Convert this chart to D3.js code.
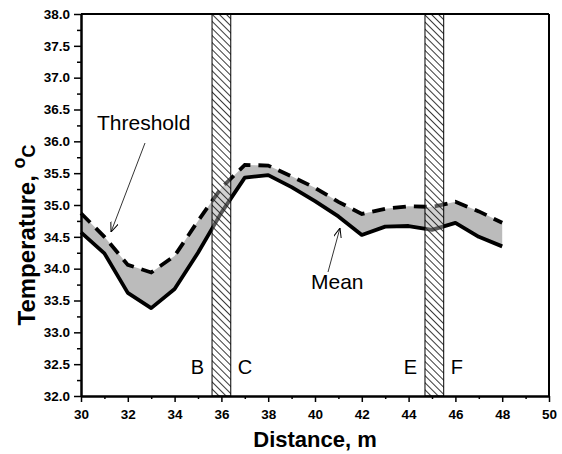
<!doctype html>
<html>
<head>
<meta charset="utf-8">
<title>Temperature vs distance</title>
<script src="https://cdnjs.cloudflare.com/ajax/libs/d3/7.8.5/d3.min.js"></script>
<style>
    body { margin: 0; background: #fff; }
    svg text { font-family: "Liberation Sans", Arial, sans-serif; fill: #000; }
    .axis text { font-weight: bold; font-size: 13.5px; }
    .axis .domain { stroke: #000; stroke-width: 2; }
    .axis line { stroke: #000; stroke-width: 1.5; }
</style>
</head>
<body>
<div id="chart"></div>
<script>
// values
var distance = [30, 31, 32, 33, 34, 35, 36, 37, 38, 39, 40, 41, 42, 43, 44, 45, 46, 47, 48];
var mean = [34.57, 34.24, 33.62, 33.38, 33.68, 34.25, 34.88, 35.43, 35.47, 35.28, 35.06, 34.82, 34.53, 34.66, 34.67, 34.61, 34.72, 34.50, 34.35];
var threshold = [34.87, 34.50, 34.06, 33.94, 34.20, 34.75, 35.27, 35.63, 35.62, 35.45, 35.27, 35.05, 34.86, 34.94, 34.98, 34.97, 35.05, 34.90, 34.72];
var zones = [[35.6, 36.4], [44.7, 45.5]];
var zoneLabels = [["B", "C"], ["E", "F"]];
var xTicks = [30, 32, 34, 36, 38, 40, 42, 44, 46, 48, 50];
var yTicks = [32, 32.5, 33, 33.5, 34, 34.5, 35, 35.5, 36, 36.5, 37, 37.5, 38];

var W = 562, H = 454;
var margin = {top: 14, right: 13, bottom: 58, left: 81};
var width = W - margin.left - margin.right,
    height = H - margin.top - margin.bottom;

var svg = d3.select("#chart").append("svg")
    .attr("width", W)
    .attr("height", H);

var defs = svg.append("defs");
defs.append("pattern")
    .attr("id", "hatch")
    .attr("patternUnits", "userSpaceOnUse")
    .attr("width", 10)
    .attr("height", 5)
    .attr("patternTransform", "rotate(45)")
    .append("line")
    .attr("x1", 0).attr("y1", 2.5)
    .attr("x2", 10).attr("y2", 2.5)
    .attr("stroke", "#222")
    .attr("stroke-width", 0.9);

defs.append("marker")
    .attr("id", "arrow")
    .attr("markerUnits", "userSpaceOnUse")
    .attr("viewBox", "0 0 10 8")
    .attr("refX", 10).attr("refY", 4)
    .attr("markerWidth", 10).attr("markerHeight", 8)
    .attr("orient", "auto")
    .append("path")
    .attr("d", "M0,0 L10,4 L0,8")
    .attr("fill", "none")
    .attr("stroke", "#000")
    .attr("stroke-width", 1);

var g = svg.append("g")
    .attr("transform", "translate(" + margin.left + "," + margin.top + ")");

var x = d3.scaleLinear().domain([30, 50]).range([0, width]);
var y = d3.scaleLinear().domain([32, 38]).range([height, 0]);

var rows = distance.map(function(d, i) {
    return {d: d, m: mean[i], t: threshold[i]};
});

// band between the two curves
var band = d3.area()
    .x(function(r) { return x(r.d); })
    .y0(function(r) { return y(r.m); })
    .y1(function(r) { return y(r.t); });

g.append("path")
    .datum(rows)
    .attr("d", band)
    .attr("fill", "#bbbbbb");

var lineMean = d3.line()
    .x(function(r) { return x(r.d); })
    .y(function(r) { return y(r.m); });
var lineThr = d3.line()
    .x(function(r) { return x(r.d); })
    .y(function(r) { return y(r.t); });

g.append("path")
    .datum(rows)
    .attr("d", lineMean)
    .attr("fill", "none")
    .attr("stroke", "#000")
    .attr("stroke-width", 3.8)
    .attr("stroke-linejoin", "round");

g.append("path")
    .datum(rows)
    .attr("d", lineThr)
    .attr("fill", "none")
    .attr("stroke", "#000")
    .attr("stroke-width", 3.8)
    .attr("stroke-dasharray", "13,8");

// hatched zones
var zone = g.selectAll(".zone")
    .data(zones)
    .enter().append("g")
    .attr("class", "zone");

zone.append("rect")
    .attr("x", function(z) { return x(z[0]); })
    .attr("y", y(38))
    .attr("width", function(z) { return x(z[1]) - x(z[0]); })
    .attr("height", y(32) - y(38))
    .attr("fill", "#fff")
    .attr("fill-opacity", 0.35);

zone.append("rect")
    .attr("x", function(z) { return x(z[0]); })
    .attr("y", y(38))
    .attr("width", function(z) { return x(z[1]) - x(z[0]); })
    .attr("height", y(32) - y(38))
    .attr("fill", "url(#hatch)")
    .attr("stroke", "#000")
    .attr("stroke-width", 1);

zone.append("text")
    .attr("x", function(z) { return x(z[0]) - 8; })
    .attr("y", y(32.35))
    .attr("text-anchor", "end")
    .style("font-size", "20px")
    .text(function(z, i) { return zoneLabels[i][0]; });

zone.append("text")
    .attr("x", function(z) { return x(z[1]) + 7; })
    .attr("y", y(32.35))
    .style("font-size", "20px")
    .text(function(z, i) { return zoneLabels[i][1]; });

// frame
g.append("line")
    .attr("x1", 0).attr("x2", width)
    .attr("y1", 0).attr("y2", 0)
    .attr("stroke", "#000").attr("stroke-width", 2);
g.append("line")
    .attr("x1", width).attr("x2", width)
    .attr("y1", 0).attr("y2", height)
    .attr("stroke", "#000").attr("stroke-width", 2);

// axes
g.append("g")
    .attr("class", "axis")
    .attr("transform", "translate(0," + height + ")")
    .call(d3.axisBottom(x).tickValues(d3.range(31, 50, 2)).tickSize(3).tickFormat("").tickSizeOuter(0));

g.append("g")
    .attr("class", "axis")
    .attr("transform", "translate(0," + height + ")")
    .call(d3.axisBottom(x).tickValues(xTicks).tickSize(6).tickPadding(7).tickSizeOuter(0));

g.append("g")
    .attr("class", "axis")
    .call(d3.axisLeft(y).tickValues(d3.range(32.25, 38, 0.5)).tickSize(4).tickFormat("").tickSizeOuter(0));

g.append("g")
    .attr("class", "axis")
    .call(d3.axisLeft(y).tickValues(yTicks).tickSize(7).tickPadding(4).tickFormat(d3.format(".1f")).tickSizeOuter(0));

// axis titles
svg.append("text")
    .attr("x", margin.left + width / 2)
    .attr("y", 447)
    .attr("text-anchor", "middle")
    .style("font-size", "22px")
    .style("font-weight", "bold")
    .text("Distance, m");

var yt = svg.append("text")
    .attr("transform", "translate(35," + (margin.top + height / 2 + 30) + ") rotate(-90)")
    .attr("text-anchor", "middle")
    .style("font-size", "24px")
    .style("font-weight", "bold");
yt.append("tspan").text("Temperature, ");
yt.append("tspan").attr("dy", -10).style("font-size", "18px").text("o");
yt.append("tspan").attr("dy", 10).style("font-size", "18px").text("C");

// annotations
svg.append("text")
    .attr("x", 97).attr("y", 130)
    .style("font-size", "21px")
    .text("Threshold");
svg.append("line")
    .attr("x1", 145).attr("y1", 143)
    .attr("x2", 111).attr("y2", 232)
    .attr("stroke", "#000").attr("stroke-width", 0.8)
    .attr("marker-end", "url(#arrow)");

svg.append("text")
    .attr("x", 311).attr("y", 289)
    .style("font-size", "21px")
    .text("Mean");
svg.append("line")
    .attr("x1", 328).attr("y1", 272)
    .attr("x2", 340).attr("y2", 228)
    .attr("stroke", "#000").attr("stroke-width", 0.8)
    .attr("marker-end", "url(#arrow)");
</script>
</body>
</html>
